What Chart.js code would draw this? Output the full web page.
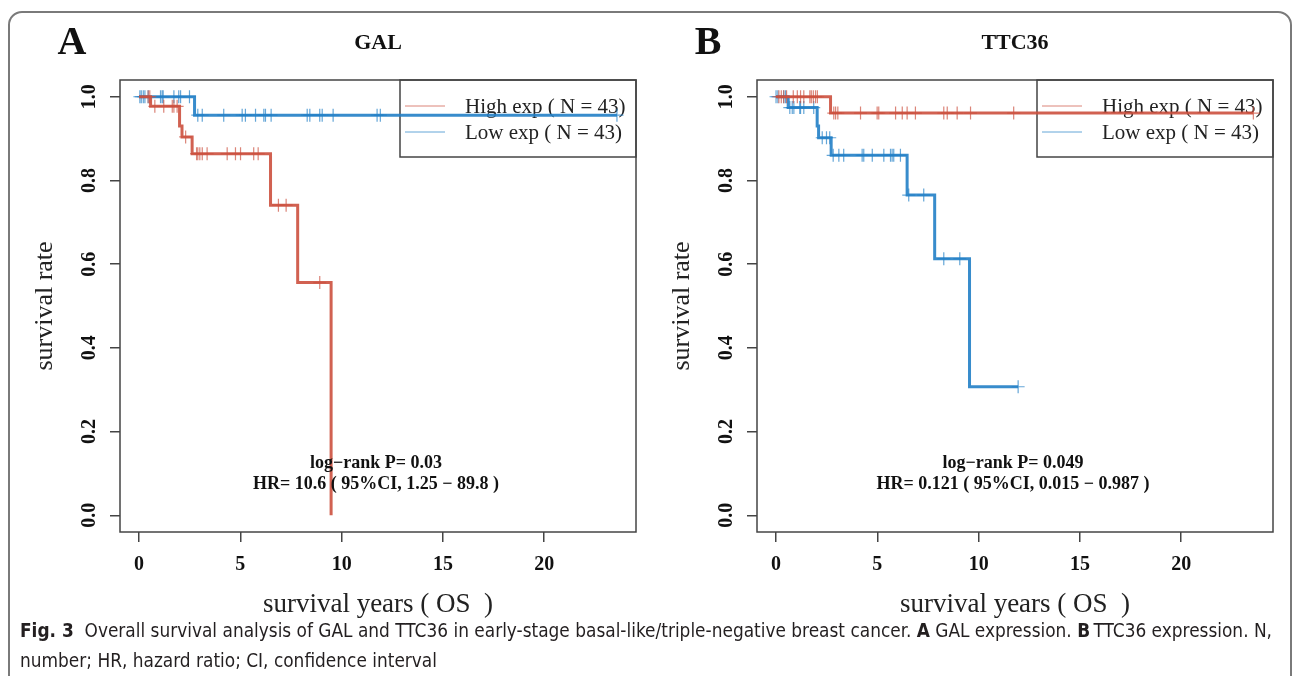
<!DOCTYPE html>
<html>
<head>
<meta charset="utf-8">
<script src="https://cdn.jsdelivr.net/npm/chart.js@4"></script>
<style>
  body { margin: 0; background: #fff; width: 1292px; height: 676px; overflow: hidden; position: relative; }
  .frame { position: absolute; left: 8px; top: 11px; width: 1280px; height: 720px; border: 2px solid #7a7a7a; border-radius: 14px; }
  canvas { position: absolute; top: 0; }
  #cap { position: absolute; left: 20px; top: 615px; font-family: "Liberation Sans Narrow", "DejaVu Sans Condensed", "Roboto", sans-serif; font-size: 19px; line-height: 30px; color: #231f20; white-space: nowrap; transform-origin: left top; }
</style>
</head>
<body>
<div class="frame"></div>
<canvas id="galChart" width="650" height="625" style="left:0px"></canvas>
<canvas id="ttcChart" width="650" height="625" style="left:637px"></canvas>
<div id="cap"><span id="l1"><b>Fig. 3</b>&nbsp; Overall survival analysis of GAL and TTC36 in early-stage basal-like/triple-negative breast cancer. <b>A</b> GAL expression. <b>B</b>&thinsp;TTC36 expression. N,</span><br>number; HR, hazard ratio; CI, confidence interval</div>
<script>
// axis ticks
const xTicks = [0, 5, 10, 15, 20];
const yTicks = [0, 0.2, 0.4, 0.6, 0.8, 1.0];

// GAL - high expression (red)
const galHighEventT = [0.57, 2.0, 2.12, 2.62, 6.49, 7.83, 9.48];
const galHighEventS = [0.977, 0.93, 0.904, 0.864, 0.741, 0.556, 0];
const galHighCensT = [0.45, 0.53, 0.78, 1.22, 1.64, 1.72, 1.88, 2.3, 2.84, 2.90, 3.00, 3.12, 3.36, 4.35, 4.76, 5.01, 5.66, 5.88, 6.88, 7.26, 8.92];
const galHighEnd = 9.48;
// GAL - low expression (blue)
const galLowEventT = [2.74];
const galLowEventS = [0.956];
const galLowCensT = [0.04, 0.11, 0.21, 0.29, 0.45, 1.06, 1.14, 1.19, 1.72, 1.96, 2.05, 2.49, 2.90, 3.12, 4.18, 5.09, 5.25, 5.75, 6.16, 6.24, 6.52, 8.30, 8.43, 8.92, 9.04, 9.58, 11.75, 11.91, 23.59];
const galLowEnd = 23.59;

// TTC36 - high expression (red)
const ttcHighEventT = [2.69];
const ttcHighEventS = [0.961];
const ttcHighCensT = [0.14, 0.26, 0.38, 0.52, 0.85, 1.05, 1.21, 1.37, 1.67, 1.74, 1.84, 1.95, 2.04, 2.85, 2.94, 3.05, 4.17, 4.99, 5.07, 5.90, 6.23, 6.47, 6.88, 8.28, 8.45, 8.94, 9.60, 11.73, 23.56];
const ttcHighEnd = 23.56;
// TTC36 - low expression (blue)
const ttcLowEventT = [0.60, 2.03, 2.1, 2.72, 6.47, 7.83, 9.55];
const ttcLowEventS = [0.974, 0.93, 0.902, 0.860, 0.765, 0.613, 0.307];
const ttcLowCensT = [0, 0.09, 0.38, 0.47, 0.68, 0.80, 0.88, 1.17, 1.21, 1.37, 1.86, 2.28, 2.49, 2.65, 2.82, 3.10, 3.34, 4.25, 4.33, 4.75, 5.32, 5.65, 5.73, 5.81, 6.14, 6.55, 7.29, 8.28, 9.07, 11.95];
const ttcLowEnd = 11.95;

const legendLabels = ['High exp ( N = 43)', 'Low exp ( N = 43)'];

const RED = 'rgba(204, 80, 62, 0.9)';
const BLUE = 'rgba(34, 128, 198, 0.9)';
const RED_LIGHT = 'rgba(204, 80, 62, 0.7)';
const BLUE_LIGHT = 'rgba(34, 128, 198, 0.7)';
const SERIF = '"Liberation Serif", "Times New Roman", serif';

function kmLine(tEv, sEv, tEnd) {
  const pts = [{x: 0, y: 1}];
  tEv.forEach((t, i) => pts.push({x: t, y: sEv[i]}));
  const last = pts[pts.length - 1];
  if (tEnd > last.x) pts.push({x: tEnd, y: last.y});
  return pts;
}

function survAt(tEv, sEv, t) {
  let s = 1;
  tEv.forEach((te, i) => { if (te <= t) s = sEv[i]; });
  return s;
}

function censPoints(tEv, sEv, tCens) {
  return tCens.map(t => ({x: t, y: survAt(tEv, sEv, t)}));
}

// box, legend, titles and text inside the plot
const kmDeco = {
  id: 'kmDeco',
  beforeDatasetsDraw(chart, args, opts) {
    const c = chart.ctx, a = chart.chartArea;
    c.save();
    // legend box
    const lx = a.left + 280, ly = a.top, lw = a.right - lx, lh = 77;
    c.strokeStyle = '#444';
    c.lineWidth = 1.5;
    c.strokeRect(lx, ly, lw, lh);
    const cols = [RED_LIGHT, BLUE_LIGHT];
    c.font = '21px ' + SERIF;
    c.textBaseline = 'middle';
    c.textAlign = 'left';
    legendLabels.forEach((lab, i) => {
      const yy = ly + 26 + i * 26;
      c.strokeStyle = cols[i];
      c.lineWidth = 1;
      c.beginPath();
      c.moveTo(lx + 5, yy);
      c.lineTo(lx + 45, yy);
      c.stroke();
      c.fillStyle = '#222';
      c.fillText(lab, lx + 65, yy + 1);
    });
    c.restore();
  },
  afterDraw(chart, args, opts) {
    const c = chart.ctx, a = chart.chartArea;
    const cx = (a.left + a.right) / 2;
    c.save();
    c.strokeStyle = '#444';
    c.lineWidth = 1.5;
    c.strokeRect(a.left, a.top, a.right - a.left, a.bottom - a.top);
    c.fillStyle = '#111';
    c.textAlign = 'center';
    c.textBaseline = 'middle';
    c.font = 'bold 22px ' + SERIF;
    c.fillText(opts.title, cx, 43);
    c.font = 'bold 40px ' + SERIF;
    c.fillText(opts.letter, opts.letterX, 44);
    c.font = 'bold 18px ' + SERIF;
    c.fillText(opts.p, cx - 2, a.bottom - 69);
    c.fillText(opts.hr, cx - 2, a.bottom - 48);
    c.restore();
  }
};

function makeChart(id, high, low, deco) {
  return new Chart(document.getElementById(id), {
    type: 'scatter',
    data: {
      datasets: [
        { data: high.line, showLine: true, stepped: 'before', borderColor: RED, borderWidth: 3, pointRadius: 0 },
        { data: high.cens, pointStyle: 'cross', pointRadius: 6.5, borderColor: RED_LIGHT, pointBorderWidth: 1.2, showLine: false },
        { data: low.line, showLine: true, stepped: 'before', borderColor: BLUE, borderWidth: 3, pointRadius: 0 },
        { data: low.cens, pointStyle: 'cross', pointRadius: 6.5, borderColor: BLUE_LIGHT, pointBorderWidth: 1.2, showLine: false }
      ]
    },
    options: {
      responsive: false,
      animation: false,
      layout: { padding: { top: 80, right: 14, left: 0, bottom: 0 } },
      plugins: {
        legend: { display: false },
        tooltip: { enabled: false },
        kmDeco: deco
      },
      scales: {
        x: {
          type: 'linear',
          min: -0.94, max: 24.53,
          afterBuildTicks: s => { s.ticks = xTicks.map(v => ({value: v})); },
          afterFit: s => { s.height = 93; },
          grid: { display: true, drawOnChartArea: false, drawTicks: true, tickLength: 10, color: '#444', lineWidth: 1.5 },
          border: { display: false },
          ticks: { font: { family: SERIF, size: 20, weight: 'bold' }, color: '#111', padding: 11, autoSkip: false, maxRotation: 0 },
          title: { display: true, text: 'survival years ( OS  )', font: { family: SERIF, size: 27, lineHeight: 1 }, color: '#222', padding: { top: 0, bottom: 7 } }
        },
        y: {
          type: 'linear',
          min: -0.04, max: 1.04,
          afterBuildTicks: s => { s.ticks = yTicks.map(v => ({value: v})); },
          afterFit: s => { s.width = 120; },
          grid: { display: true, drawOnChartArea: false, drawTicks: true, tickLength: 10, color: '#444', lineWidth: 1.5 },
          border: { display: false },
          ticks: { font: { family: SERIF, size: 20, weight: 'bold' }, color: '#111', padding: 8, autoSkip: false, minRotation: 90, maxRotation: 90, crossAlign: 'center', callback: v => v.toFixed(1) },
          title: { display: true, text: 'survival rate', font: { family: SERIF, size: 26, lineHeight: 1 }, color: '#222', padding: { top: 32, bottom: 0 } }
        }
      }
    },
    plugins: [kmDeco]
  });
}

makeChart('galChart',
  { line: kmLine(galHighEventT, galHighEventS, galHighEnd), cens: censPoints(galHighEventT, galHighEventS, galHighCensT) },
  { line: kmLine(galLowEventT, galLowEventS, galLowEnd), cens: censPoints(galLowEventT, galLowEventS, galLowCensT) },
  { title: 'GAL', letter: 'A', letterX: 72, p: 'log\u2212rank P= 0.03', hr: 'HR= 10.6 ( 95%CI, 1.25 \u2212 89.8 )' });

makeChart('ttcChart',
  { line: kmLine(ttcHighEventT, ttcHighEventS, ttcHighEnd), cens: censPoints(ttcHighEventT, ttcHighEventS, ttcHighCensT) },
  { line: kmLine(ttcLowEventT, ttcLowEventS, ttcLowEnd), cens: censPoints(ttcLowEventT, ttcLowEventS, ttcLowCensT) },
  { title: 'TTC36', letter: 'B', letterX: 71, p: 'log\u2212rank P= 0.049', hr: 'HR= 0.121 ( 95%CI, 0.015 \u2212 0.987 )' });

// stretch caption so its first line spans the figure width
const l1 = document.getElementById('l1');
const cap = document.getElementById('cap');
const w = l1.getBoundingClientRect().width;
cap.style.transform = 'scaleX(' + (1252 / w) + ')';
</script>
</body>
</html>
